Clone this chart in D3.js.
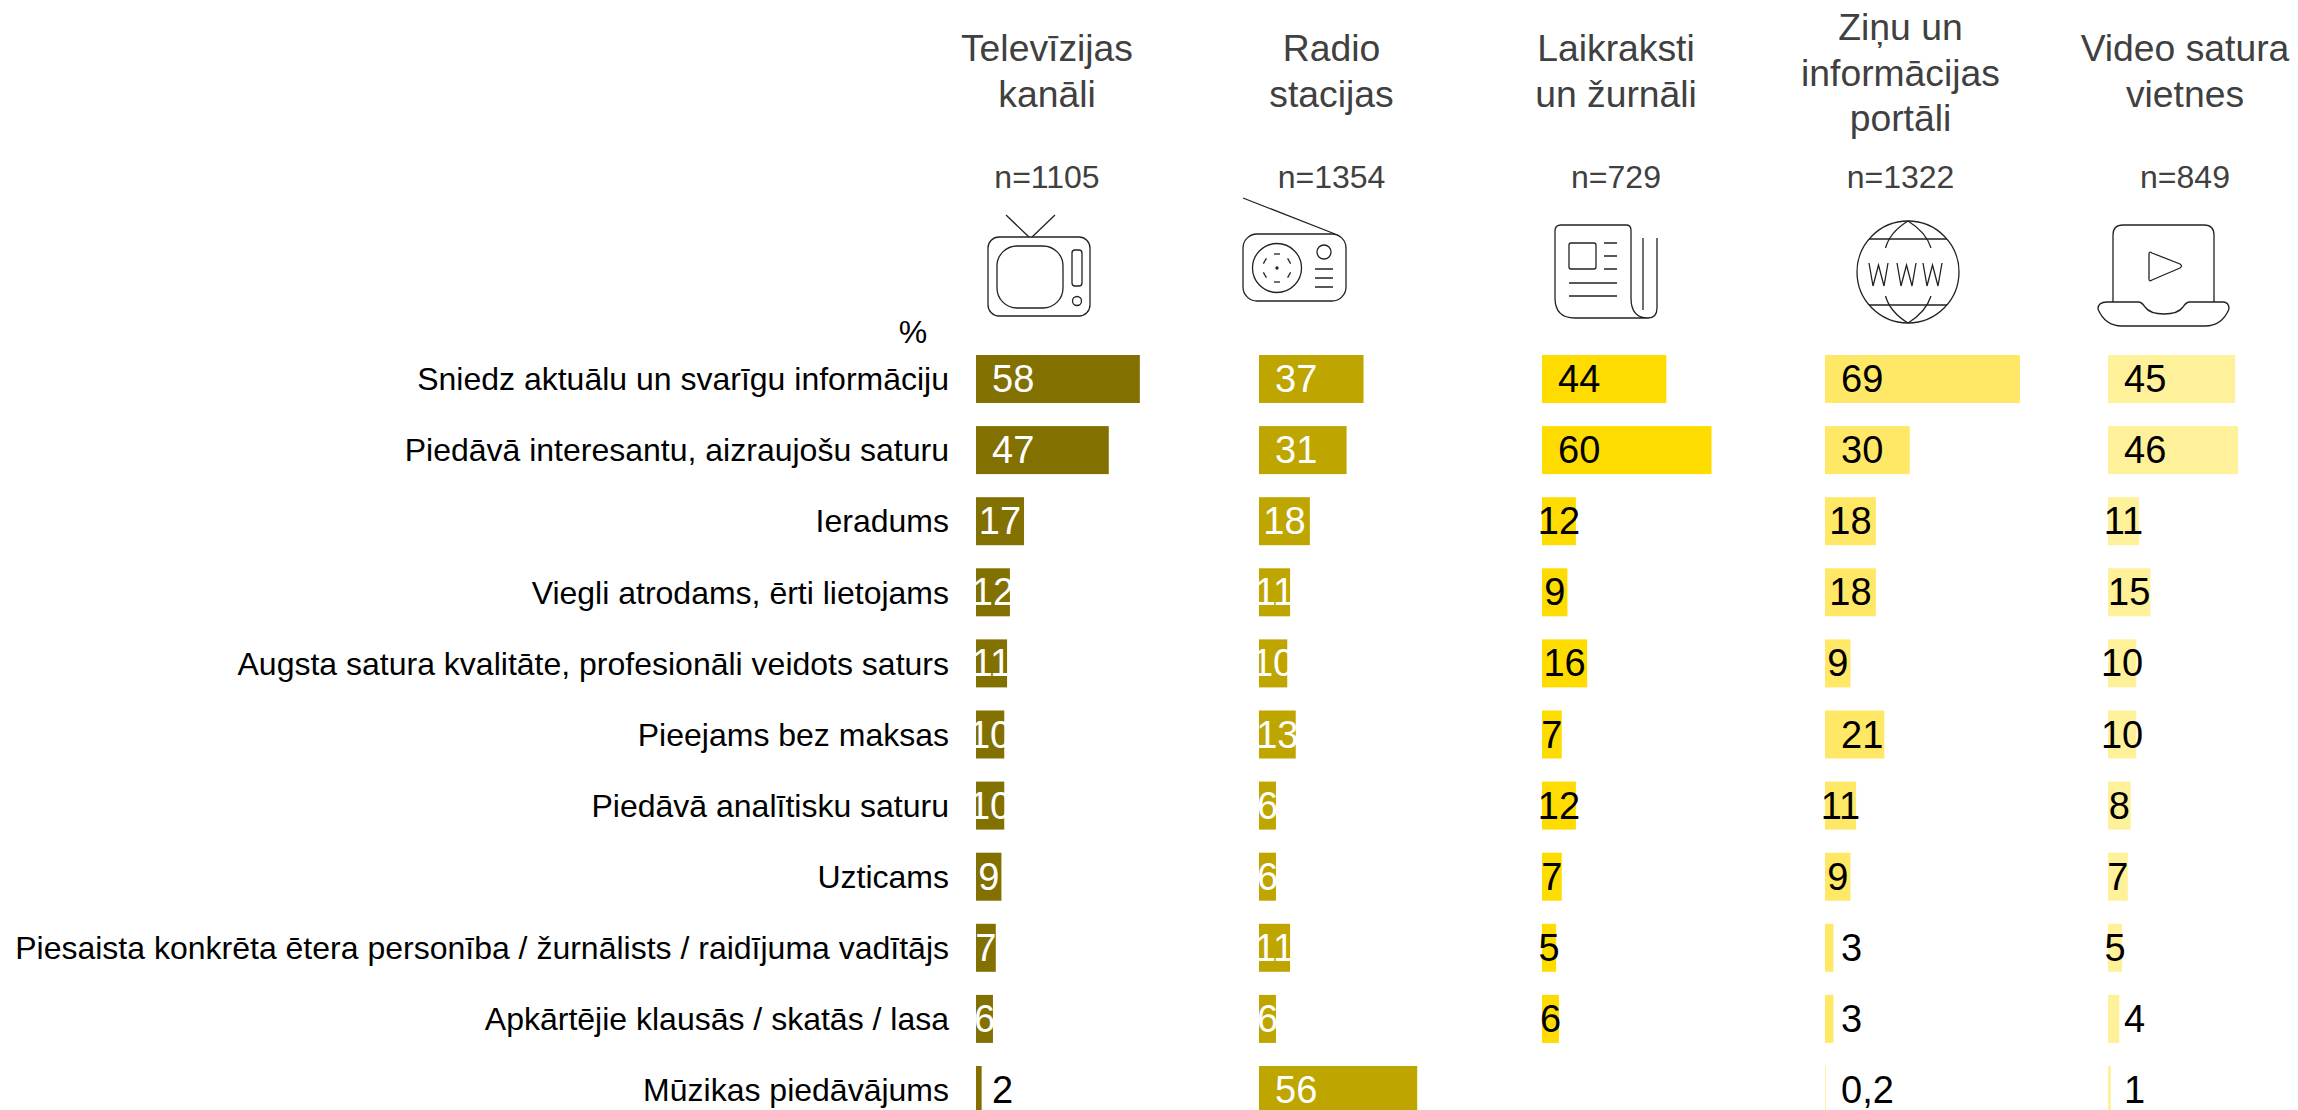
<!DOCTYPE html>
<html><head><meta charset="utf-8">
<script src="https://cdn.jsdelivr.net/npm/d3@7"></script>
<style>html,body{margin:0;background:#fff}svg{display:block}text{font-family:"Liberation Sans",Arial,sans-serif}</style>
</head><body><svg id="c" width="2298" height="1110"></svg>
<script>
const categories = ["Sniedz aktuālu un svarīgu informāciju","Piedāvā interesantu, aizraujošu saturu","Ieradums","Viegli atrodams, ērti lietojams","Augsta satura kvalitāte, profesionāli veidots saturs","Pieejams bez maksas","Piedāvā analītisku saturu","Uzticams","Piesaista konkrēta ētera personība / žurnālists / raidījuma vadītājs","Apkārtējie klausās / skatās / lasa","Mūzikas piedāvājums"];
const columns = ["tv","radio","press","portal","video"];
const headers = [["Televīzijas","kanāli"],["Radio","stacijas"],["Laikraksti","un žurnāli"],["Ziņu un","informācijas","portāli"],["Video satura","vietnes"]];
const sampleSizes = ["n=1105","n=1354","n=729","n=1322","n=849"];
const tv = [58,47,17,12,11,10,10,9,7,6,2];
const radio = [37,31,18,11,10,13,6,6,11,6,56];
const press = [44,60,12,9,16,7,12,7,5,6,null];
const portal = [69,30,18,18,9,21,11,9,3,3,0.2];
const video = [45,46,11,15,10,10,8,7,5,4,1];
const series = [tv,radio,press,portal,video];
const colors = ["#827000","#BEA500","#FFDC00","#FFE866","#FFF09A"];
const labelColors = ["#fff","#fff","#000","#000","#000"];

const svg = d3.select("#c");
const x = d3.scalePoint().domain(columns).range([976,2108]);
const headX = d3.scalePoint().domain(columns).range([1047,2185]);
const w = d3.scaleLinear().domain([0,100]).range([0,282.5]);
const y = d3.scaleBand().domain(categories).range([355,355+71.1*11-23.1]).paddingInner(23.1/71.1).paddingOuter(0);

const axis = svg.append("g").attr("transform","translate(949,1)")
  .call(d3.axisLeft(y).tickSize(0).tickPadding(0));
axis.select(".domain").remove();
axis.selectAll("text").attr("font-size",32).attr("fill","#000").style("font-family",'"Liberation Sans"');

svg.append("text").attr("x",913).attr("y",343).attr("text-anchor","middle").attr("font-size",32).attr("fill","#000").text("%");

columns.forEach((c,ci)=>{
  const g = svg.append("g");
  const rows = series[ci].map((v,i)=>({v,cat:categories[i]})).filter(d=>d.v!==null);
  g.selectAll("rect").data(rows).join("rect")
    .attr("x",x(c)).attr("y",d=>y(d.cat)).attr("width",d=>w(d.v)).attr("height",y.bandwidth()).attr("fill",colors[ci]);
  const outside = d=>d.v<5;
  const left = d=>d.v>=21||outside(d);
  g.selectAll("text").data(rows).join("text")
    .attr("x",d=>left(d)?x(c)+16:x(c)+w(d.v)/2)
    .attr("text-anchor",d=>left(d)?"start":"middle")
    .attr("y",d=>y(d.cat)+y.bandwidth()/2+13)
    .attr("font-size",38)
    .attr("fill",d=>outside(d)?"#000":labelColors[ci])
    .text(d=>String(d.v).replace(".",","));
  const lines = headers[ci];
  const h = svg.append("text").attr("text-anchor","middle").attr("font-size",37.3).attr("fill","#404040");
  const first = lines.length===3?40:61;
  lines.forEach((t,i)=>h.append("tspan").attr("x",headX(c)).attr("y",first+i*45.5).text(t));
  svg.append("text").attr("x",headX(c)).attr("y",188).attr("text-anchor","middle").attr("font-size",32).attr("fill","#404040").text(sampleSizes[ci]);
});

const ic = svg.append("g").attr("fill","none").attr("stroke","#222").attr("stroke-width",1.3);
const R=(p,a,b,c2,d,r)=>p.append("rect").attr("x",a).attr("y",b).attr("width",c2-a).attr("height",d-b).attr("rx",r);
const P=(p,s)=>p.append("path").attr("d",s);
const C=(p,a,b,r)=>p.append("circle").attr("cx",a).attr("cy",b).attr("r",r);
// tv
R(ic,988,237,1090,316,11); R(ic,997,246,1063,308,20); R(ic,1072,250,1082,286,3); C(ic,1077,301,4.5);
P(ic,"M1006,215L1029,237M1055,215L1032,237");
// radio
R(ic,1243,234,1346,301,14); P(ic,"M1243,198L1335,234"); C(ic,1277,268,24.5); C(ic,1324,252,7);
P(ic,"M1315,269H1333M1315,278H1333M1315,287H1333");
d3.range(6).forEach(i=>{const a=i*Math.PI/3+Math.PI/2,u=Math.cos(a),v=Math.sin(a),tx=-v*3,ty=u*3;
  P(ic,`M${1277+14*u-tx},${268+14*v-ty}L${1277+14*u+tx},${268+14*v+ty}`);});
C(ic,1277,268,1).attr("fill","#222");
// newspaper
P(ic,"M1561,225H1626Q1631,225 1631,230V298Q1631,318 1648,318H1575Q1555,318 1555,298V231Q1555,225 1561,225Z");
P(ic,"M1643,238V310M1657,238V308Q1657,318 1648,318");
R(ic,1569,243,1596,269,2);
P(ic,"M1604,243H1617M1604,256H1617M1604,269H1617M1569,283H1617M1569,296H1617");
// globe
C(ic,1908,272,51);
P(ic,"M1869,239H1947M1869,305H1947");
P(ic,"M1885.5,248Q1890,232 1908,221Q1926,232 1931,248M1885.5,296Q1890,312 1908,323Q1926,312 1931,296");
[1869,1897,1923].forEach(a=>P(ic,`M${a},263L${a+4},286L${a+9.5},265L${a+15},286L${a+19},263`));
// video
P(ic,"M2113,302V235Q2113,225 2123,225H2204Q2214,225 2214,235V302");
P(ic,"M2107,302H2138Q2142,302 2145,307Q2150,314 2164,314Q2178,314 2183,307Q2186,302 2190,302H2223Q2229,302 2229,309Q2222,326 2205,326H2122Q2105,326 2098,309Q2098,302 2107,302Z");
P(ic,"M2149,254Q2149,251 2152,253L2180,264Q2183,266 2180,268L2152,280Q2149,282 2149,279Z");
</script></body></html>
